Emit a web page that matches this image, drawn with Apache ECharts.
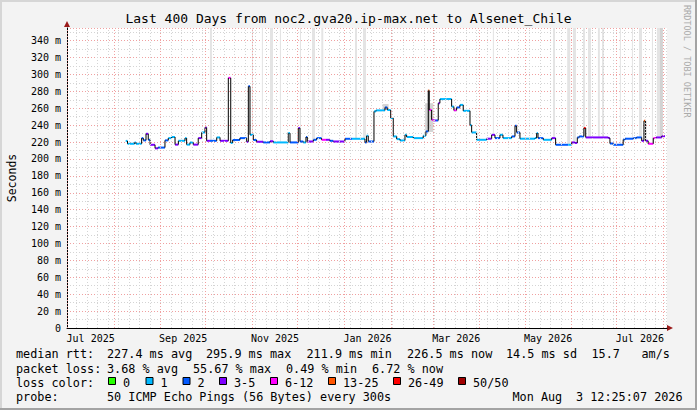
<!DOCTYPE html>
<html lang="en">
<head>
<meta charset="UTF-8">
<title>Last 400 Days from noc2.gva20.ip-max.net to Alsenet_Chile</title>
<script src="https://cdn.jsdelivr.net/npm/echarts@6/dist/echarts.min.js"></script>
<style>
    html, body { margin: 0; padding: 0; background: #f3f3f3; }
    #main { width: 697px; height: 410px; }
</style>
</head>
<body>
<div id="main"></div>
<script>
// day 0 = 1 Jul 2025 00:00 UTC, all x values are days from there
var DAY = 86400000;
var T0 = Date.UTC(2025, 6, 1);
var xMin = -0.2;
var xMax = (Date.UTC(2026, 7, 3, 12, 25, 7) - T0) / DAY;
var yMax = 355;

// median rtt, step segments (start day, value in ms, loss colour class)
var segDay = [38.8, 40.0, 44.7, 45.6, 49.4, 50.5, 52.3, 53.8, 55.0, 58.3, 60.3, 64.9, 67.1, 69.4, 71.6, 73.8,
    78.2, 79.3, 81.5, 83.7, 87.0, 89.3, 91.5, 92.6, 94.8, 99.3, 101.5, 107.0, 108.6, 109.9, 114.7, 119.2,
    120.3, 121.4, 123.6, 125.8, 130.2, 134.7, 136.9, 146.8, 148.0, 153.5, 154.6, 156.8, 158.6, 159.5, 163.5,
    165.7, 169.0, 171.9, 174.5, 176.7, 184.5, 189.2, 197.8, 198.9, 200.0, 203.8, 205.1, 211.1, 212.6, 214.9,
    216.6, 218.9, 221.1, 224.4, 225.5, 229.9, 236.5, 238.3, 239.9, 240.5, 242.1, 243.2, 245.0, 246.5, 247.6,
    252.1, 255.4, 256.9, 258.7, 260.9, 263.1, 267.6, 268.7, 272.0, 278.7, 282.0, 284.2, 287.5, 289.5, 295.3,
    297.5, 298.6, 300.8, 310.8, 311.9, 312.8, 316.3, 321.9, 324.5, 332.9, 335.2, 337.3, 338.9, 340.2, 343.3,
    344.5, 359.5, 360.6, 362.8, 369.4, 370.6, 376.1, 378.3, 381.7, 383.2, 384.3, 386.0, 389.4, 391.3, 395.0];
var endDay = 397.2;
var rtt = [221.4, 218.0, 219.5, 218.0, 224.7, 222.0, 229.8, 222.7, 216.8, 212.6, 213.5, 222.0, 224.7, 226.0, 217.0, 221.5,
    224.7, 217.0, 219.5, 217.0, 224.7, 231.4, 237.3, 221.5, 221.5, 225.5, 221.5, 296.0, 219.0, 222.5, 224.7, 220.4,
    286.0, 228.6, 222.5, 220.4, 219.6, 221.0, 219.6, 230.6, 219.6, 236.6, 220.7, 219.6, 226.0, 220.7, 222.7,
    224.7, 222.7, 222.7, 221.5, 220.7, 223.9, 223.9, 219.6, 227.5, 220.7, 256.3, 257.5, 261.0, 258.0, 248.4,
    226.7, 223.5, 221.9, 228.6, 226.0, 224.7, 227.5, 232.6, 281.0, 258.0, 246.4, 245.6, 245.6, 266.0, 270.9,
    271.0, 262.0, 257.5, 261.0, 264.0, 257.0, 240.0, 231.4, 222.7, 224.0, 228.6, 224.7, 228.6, 224.7, 226.7,
    239.3, 231.4, 224.0, 224.7, 230.6, 224.7, 222.7, 224.7, 216.8, 216.8, 219.6, 219.0, 225.5, 226.7, 236.6,
    225.5, 224.7, 218.3, 216.8, 223.0, 224.0, 224.7, 225.5, 221.5, 245.2, 221.5, 218.0, 224.7, 225.5, 227.0];
var lossClass = [1, 1, 1, 1, 2, 2, 3, 2, 3, 3, 2, 2, 1, 1, 3, 1,
    1, 1, 1, 3, 3, 1, 3, 3, 2, 1, 3, 4, 1, 2, 2, 3,
    2, 1, 2, 3, 2, 3, 1, 1, 2, 3, 2, 1, 2, 3, 2,
    2, 4, 3, 2, 3, 2, 1, 2, 1, 2, 1, 1, 2, 1, 1,
    1, 1, 1, 1, 1, 1, 1, 2, 5, 4, 4, 3, 2, 3, 1,
    1, 1, 4, 2, 1, 1, 1, 1, 1, 3, 3, 2, 1, 1, 2,
    2, 2, 1, 1, 1, 2, 1, 3, 2, 1, 3, 3, 2, 2, 6,
    3, 3, 2, 2, 2, 2, 2, 2, 3, 5, 3, 4, 4, 3, 3];

// smoke columns that run off the top of the graph (start day, end day)
var bandStart = [94.8, 122.7, 129.3, 134.7, 141.3, 154.6, 162.6, 168.8, 191.2, 196.5, 282.8, 322.8, 332.2, 336.0,
    342.7, 346.0, 352.6, 355.3, 367.2, 375.2, 379.9, 388.5, 391.8, 393.8];
var bandEnd = [96.1, 123.4, 130.0, 136.7, 142.0, 155.3, 164.6, 170.1, 192.5, 198.5, 283.5, 324.1, 334.2, 338.0,
    344.0, 348.0, 353.9, 356.6, 367.9, 375.9, 381.9, 389.2, 393.8, 395.8];
var bandDark = [0, 0, 0, 0, 0, 0, 0, 0, 0, 0, 0, 0, 0, 0, 0, 0, 0, 0, 0, 0, 0, 0, 0, 1];

// darker smoke round the big swings (start, end, low ms, high ms)
var smokeStart = [209.5, 237.8, 239.4];
var smokeEnd = [213.5, 243.2, 241.0];
var smokeLo = [258.0, 232.0, 236.0];
var smokeHi = [265.0, 266.0, 282.0];

var lossColors = ['#26ff00', '#00b8ff', '#0059ff', '#7e00ff', '#ff00ff', '#ff5500', '#ff0000', '#a00000'];
var lossLabels = ['0', '1', '2', '3-5', '6-12', '13-25', '26-49', '50/50'];
var monthNames = ['Jan', 'Feb', 'Mar', 'Apr', 'May', 'Jun', 'Jul', 'Aug', 'Sep', 'Oct', 'Nov', 'Dec'];
var labelMonths = [6, 8, 10, 12, 14, 16, 18]; // months counted from Jan 2025

var statsRtt = ['median rtt:', '227.4 ms avg', '295.9 ms max', '211.9 ms min', '226.5 ms now', '14.5 ms sd', '15.7', 'am/s'];
var statsLoss = ['packet loss:', '3.68 % avg', '55.67 % max', '0.49 % min', '6.72 % now'];
var probeText = ['probe:', '50 ICMP Echo Pings (56 Bytes) every 300s', 'Mon Aug', '3 12:25:07 2026'];

var MONO = '"DejaVu Sans Mono", monospace';

function dayOf(y, m, d) { return (Date.UTC(y, m, d) - T0) / DAY; }

function rttAt(day) {
    var v = rtt[0];
    for (var i = 0; i < segDay.length; i++) {
        if (segDay[i] <= day) v = rtt[i];
    }
    return v;
}

// grid: red month lines, grey lines on Mondays
var monthDays = [];
for (var m = 6; m <= 19; m++) monthDays.push(dayOf(2025, m, 1));
var weekDays = [];
for (var w = dayOf(2025, 6, 7); w <= xMax; w += 7) weekDays.push(w);

var labelDays = [], labelTexts = [];
labelMonths.forEach(function (mm) {
    labelDays.push((dayOf(2025, mm, 1) + dayOf(2025, mm + 1, 1)) / 2);
    labelTexts.push(monthNames[mm % 12] + ' ' + (2025 + Math.floor(mm / 12)));
});

var lineData = segDay.map(function (d, i) {
    var end = i + 1 < segDay.length ? segDay[i + 1] : endDay;
    var prev = i > 0 ? rtt[i - 1] : rtt[i];
    return [d, end, rtt[i], prev, lossClass[i]];
});
var bandData = bandStart.map(function (s, i) {
    return [s, bandEnd[i], rttAt(s) + 1, yMax, bandDark[i]];
});
var smokeData = smokeStart.map(function (s, i) {
    return [s, smokeEnd[i], smokeLo[i], smokeHi[i]];
});

var chart = echarts.init(document.getElementById('main'), null, {renderer: 'svg'});

// legend and stats under the graph
var graphics = [];
function addText(str, x, y, size, fill) {
    graphics.push({
        type: 'text', x: x, y: y, silent: true,
        style: {text: str, font: size + 'px ' + MONO, fill: fill || '#000', verticalAlign: 'middle'}
    });
}
var rttX = [16, 107, 206, 306.5, 407, 506, 591.5, 641.5];
statsRtt.forEach(function (s, i) { addText(s, rttX[i], 353.5, 11.8); });
var lossX = [16, 107, 193, 286, 372];
statsLoss.forEach(function (s, i) { addText(s, lossX[i], 368.5, 11.8); });
addText('loss color:', 16, 383, 11.8);
var boxX = [108, 145.5, 182.5, 219, 270, 328, 393, 458];
lossLabels.forEach(function (s, i) {
    graphics.push({
        type: 'rect', silent: true,
        shape: {x: boxX[i] + 0.5, y: 377.5, width: 7, height: 7},
        style: {fill: lossColors[i], stroke: '#000', lineWidth: 1}
    });
    addText(s, boxX[i] + 15, 383, 11.8);
});
var probeX = [16, 107, 512.5, 576];
probeText.forEach(function (s, i) { addText(s, probeX[i], 397, 11.8); });

// axis arrows
graphics.push({type: 'polygon', silent: true, shape: {points: [[64, 27], [70, 27], [67, 21]]}, style: {fill: '#9b1b1b'}});
graphics.push({type: 'polygon', silent: true, shape: {points: [[667, 325], [667, 331], [673, 328]]}, style: {fill: '#9b1b1b'}});

// rrdtool watermark
graphics.push({
    type: 'text', x: 687, y: 5, rotation: -Math.PI / 2, silent: true,
    style: {text: 'RRDTOOL / TOBI OETIKER', font: '8.5px ' + MONO, fill: '#aaaaaa', verticalAlign: 'middle'}
});

// frame
graphics.push({type: 'rect', silent: true, shape: {x: 0, y: 0, width: 697, height: 2}, style: {fill: '#d6d6d6'}});
graphics.push({type: 'rect', silent: true, shape: {x: 0, y: 0, width: 2, height: 410}, style: {fill: '#d6d6d6'}});
graphics.push({type: 'rect', silent: true, shape: {x: 0, y: 408, width: 697, height: 2}, style: {fill: '#a3a3a3'}});
graphics.push({type: 'rect', silent: true, shape: {x: 695, y: 0, width: 2, height: 410}, style: {fill: '#a3a3a3'}});

var option = {
    animation: false,
    backgroundColor: '#f3f3f3',
    title: {
        text: 'Last 400 Days from noc2.gva20.ip-max.net to Alsenet_Chile',
        left: 'center', top: 12, padding: 0,
        textStyle: {fontFamily: MONO, fontSize: 13, fontWeight: 'normal', color: '#000'}
    },
    grid: {left: 67, right: 30, top: 28, bottom: 82, show: true, backgroundColor: '#fff', borderWidth: 0,
        containLabel: false, outerBoundsMode: 'none'},
    xAxis: {
        type: 'value', min: xMin, max: xMax,
        axisLine: {show: true, lineStyle: {color: '#000', width: 1}},
        axisTick: {show: false},
        splitLine: {show: false},
        axisLabel: {
            customValues: labelDays, margin: 5,
            fontFamily: MONO, fontSize: 10, color: '#000',
            formatter: function (v) {
                for (var i = 0; i < labelDays.length; i++) {
                    if (Math.abs(labelDays[i] - v) < 0.01) return labelTexts[i];
                }
                return '';
            }
        }
    },
    yAxis: {
        type: 'value', min: 0, max: yMax, interval: 10,
        name: 'Seconds', nameLocation: 'middle', nameGap: 49,
        nameTextStyle: {fontFamily: MONO, fontSize: 11.5, color: '#000'},
        axisLine: {show: true, lineStyle: {color: '#000', width: 1}},
        axisTick: {show: false},
        splitLine: {show: true, lineStyle: {color: ['#f0a0a0', '#d4d4d4'], type: [1, 2], width: 1}},
        axisLabel: {
            margin: 6, fontFamily: MONO, fontSize: 10, color: '#000',
            formatter: function (v) {
                if (v % 20 !== 0) return '';
                return v === 0 ? '0' : v + ' m';
            }
        }
    },
    graphic: graphics,
    series: [
        {
            type: 'line', data: [], silent: true, z: 1,
            markLine: {
                silent: true, symbol: ['none', 'none'], label: {show: false},
                lineStyle: {color: '#d4d4d4', type: [1, 2], width: 1},
                data: weekDays.map(function (d) { return {xAxis: d}; })
            }
        },
        {
            type: 'line', data: [], silent: true, z: 1,
            markLine: {
                silent: true, symbol: ['none', 'none'], label: {show: false},
                lineStyle: {color: '#f0a0a0', type: [1, 2], width: 1},
                data: monthDays.map(function (d) { return {xAxis: d}; })
            }
        },
        {
            type: 'custom', silent: true, z: 2, clip: true,
            encode: {x: [0, 1], y: [2, 3]},
            data: bandData,
            renderItem: function (params, api) {
                var a = api.coord([api.value(0), api.value(3)]);
                var b = api.coord([api.value(1), api.value(2)]);
                return {
                    type: 'rect',
                    shape: {x: a[0], y: a[1], width: Math.max(1, b[0] - a[0]), height: b[1] - a[1]},
                    style: {fill: api.value(4) ? '#d2d2d2' : '#e4e4e4'}
                };
            }
        },
        {
            type: 'custom', silent: true, z: 2, clip: true,
            encode: {x: [0, 1], y: [2, 3]},
            data: smokeData,
            renderItem: function (params, api) {
                var a = api.coord([api.value(0), api.value(3)]);
                var b = api.coord([api.value(1), api.value(2)]);
                return {
                    type: 'rect',
                    shape: {x: a[0], y: a[1], width: b[0] - a[0], height: b[1] - a[1]},
                    style: {fill: '#b8b8b8', opacity: 0.6}
                };
            }
        },
        {
            type: 'custom', silent: true, z: 3, clip: true,
            encode: {x: [0, 1], y: [2, 3]},
            data: lineData,
            renderItem: function (params, api) {
                var a = api.coord([api.value(0), api.value(2)]);
                var b = api.coord([api.value(1), api.value(2)]);
                var p = api.coord([api.value(0), api.value(3)]);
                return {
                    type: 'group',
                    children: [
                        {type: 'line', shape: {x1: a[0], y1: a[1], x2: b[0], y2: b[1]},
                            style: {stroke: lossColors[api.value(4)], lineWidth: 2}},
                        {type: 'line', shape: {x1: p[0], y1: p[1], x2: a[0], y2: a[1]},
                            style: {stroke: '#000', lineWidth: 1}}
                    ]
                };
            }
        }
    ]
};

chart.setOption(option);
</script>
</body>
</html>
